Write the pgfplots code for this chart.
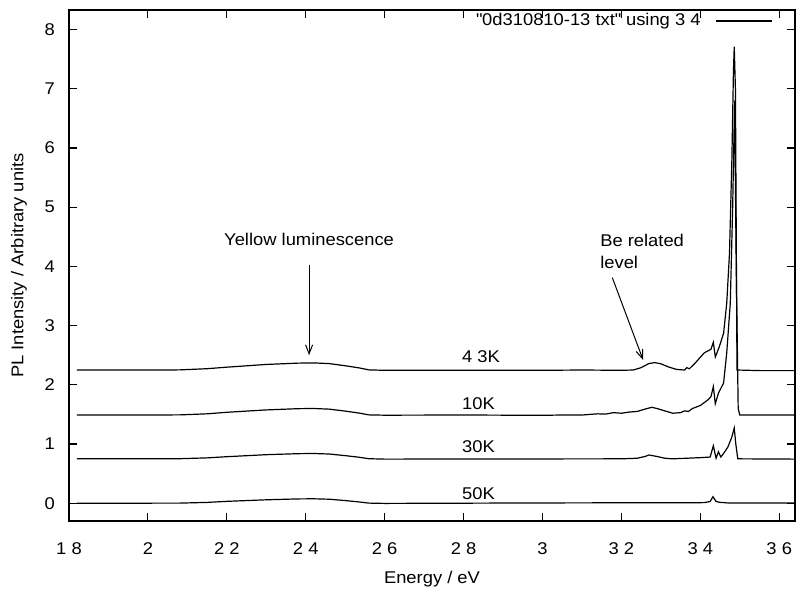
\documentclass[border=0pt]{standalone}
\usepackage{fontspec}
\setmainfont{Liberation Sans}[FakeStretch=1.08]
\usepackage{pgfplots}
\pgfplotsset{compat=1.18}
\usetikzlibrary{arrows.meta}
\begin{document}
\fontsize{17}{22}\selectfont
\begin{tikzpicture}
\begin{axis}[
  scale only axis, width=726pt, height=511pt,
  xmin=1.8, xmax=3.64, ymin=-0.3, ymax=8.33,
  axis line style={line width=1.2pt},
  tick style={line width=1.1pt, black},
  major tick length=8pt, tick align=inside,
  xtick={1.8,2,2.2,2.4,2.6,2.8,3,3.2,3.4,3.6},
  xticklabels={1 8,2,2 2,2 4,2 6,2 8,3,3 2,3 4,3 6},
  ytick={0,1,2,3,4,5,6,7,8},
  /pgf/number format/assume math mode=true,
  xticklabel style={anchor=base, yshift=-33pt},
  yticklabel style={anchor=east, inner sep=0pt, xshift=-14pt},
  xlabel={Energy / eV}, ylabel={PL Intensity / Arbitrary units},
  every axis x label/.style={at={([yshift=-62pt]axis description cs:0.5,0)}, anchor=base},
  every axis y label/.style={at={([xshift=-50pt]axis description cs:0,0.5)}, rotate=90, anchor=center},
  legend plot pos=right,
  legend image code/.code={\draw[#1] (0pt,0pt) -- (56pt,0pt);},
  legend style={draw=none, fill=none, at={(0.9697,0.9785)}, anchor=east, inner sep=0pt,
    nodes={inner sep=0pt},
    /tikz/every odd column/.style={column sep=15pt},
    /tikz/every even column/.style={column sep=0pt}},
]
\addplot[black, line width=1.2pt] coordinates {
(1.82,2.25) (2.00,2.25) (2.08,2.252) (2.15,2.272) (2.20,2.298) (2.30,2.344) (2.38,2.366) (2.42,2.37) (2.46,2.358) (2.50,2.322) (2.535,2.286) (2.56,2.252) (2.60,2.245) (2.80,2.245) (3.00,2.245) (3.10,2.25) (3.20,2.245) (3.23,2.25) (3.25,2.29) (3.27,2.36) (3.285,2.375) (3.30,2.355) (3.32,2.30) (3.34,2.26) (3.36,2.25) (3.366,2.29) (3.372,2.27) (3.386,2.36) (3.41,2.54) (3.427,2.60) (3.433,2.72) (3.438,2.47) (3.448,2.64) (3.459,2.87) (3.467,3.38) (3.474,4.23) (3.480,5.8) (3.484,7.3) (3.486,7.71) (3.489,7.0) (3.493,2.25) (3.55,2.24) (3.64,2.24)
};
\addlegendentry{\textquotedbl 0d310810-13 txt\textquotedbl{} using 3 4}
\addplot[black, line width=1.2pt] coordinates {
(1.82,1.49) (2.08,1.492) (2.15,1.51) (2.20,1.536) (2.30,1.576) (2.38,1.597) (2.42,1.60) (2.46,1.589) (2.50,1.556) (2.535,1.523) (2.56,1.492) (2.60,1.487) (2.80,1.49) (3.00,1.485) (3.05,1.49) (3.10,1.49) (3.12,1.50) (3.14,1.51) (3.16,1.505) (3.18,1.53) (3.20,1.52) (3.22,1.54) (3.24,1.55) (3.26,1.59) (3.277,1.62) (3.29,1.60) (3.31,1.56) (3.33,1.52) (3.35,1.53) (3.36,1.56) (3.37,1.55) (3.38,1.60) (3.40,1.65) (3.42,1.75) (3.427,1.80) (3.433,1.97) (3.438,1.68) (3.446,1.86) (3.459,2.03) (3.467,2.54) (3.476,3.38) (3.482,5.0) (3.487,6.8) (3.491,4.0) (3.496,1.6) (3.50,1.49) (3.64,1.49)
};
\addplot[black, line width=1.2pt] coordinates {
(1.82,0.75) (2.08,0.752) (2.15,0.766) (2.20,0.786) (2.30,0.82) (2.38,0.837) (2.42,0.84) (2.46,0.831) (2.50,0.804) (2.535,0.777) (2.56,0.752) (2.60,0.745) (3.20,0.75) (3.24,0.76) (3.26,0.79) (3.27,0.815) (3.29,0.79) (3.31,0.76) (3.33,0.75) (3.40,0.77) (3.425,0.78) (3.433,0.97) (3.44,0.76) (3.446,0.87) (3.452,0.78) (3.46,0.85) (3.47,0.95) (3.48,1.12) (3.486,1.27) (3.490,1.0) (3.495,0.75) (3.64,0.745)
};
\addplot[black, line width=1.2pt] coordinates {
(1.82,0) (2.08,0.002) (2.15,0.014) (2.20,0.032) (2.30,0.058) (2.38,0.073) (2.42,0.075) (2.46,0.068) (2.50,0.045) (2.535,0.022) (2.56,0.002) (2.60,-0.003) (3.00,0.005) (3.41,0.01) (3.425,0.03) (3.432,0.11) (3.44,0.03) (3.45,0.015) (3.47,0.005) (3.64,0.005)
};
\node at (axis cs:2.4085,4.45) {Yellow luminescence};
\draw[line width=1pt, -{Straight Barb[length=9pt,width=7pt]}] (axis cs:2.4085,4.03) -- (axis cs:2.4085,2.5);
\node[align=left, anchor=west, inner sep=0pt] at (axis cs:3.146,4.26) {Be related\\level};
\draw[line width=1pt, -{Straight Barb[length=9pt,width=7pt]}] (axis cs:3.177,3.81) -- (axis cs:3.255,2.42);
\node[anchor=west, inner sep=0pt] at (axis cs:2.796,2.47) {4 3K};
\node[anchor=west, inner sep=0pt] at (axis cs:2.796,1.68) {10K};
\node[anchor=west, inner sep=0pt] at (axis cs:2.796,0.95) {30K};
\node[anchor=west, inner sep=0pt] at (axis cs:2.796,0.17) {50K};
\coordinate (sw) at (rel axis cs:0,0);
\coordinate (ne) at (rel axis cs:1,1);
\end{axis}
\pgfresetboundingbox
\path[use as bounding box] ([xshift=-69pt,yshift=-68pt]sw) rectangle ([xshift=3pt,yshift=10pt]ne);
\end{tikzpicture}
\end{document}
